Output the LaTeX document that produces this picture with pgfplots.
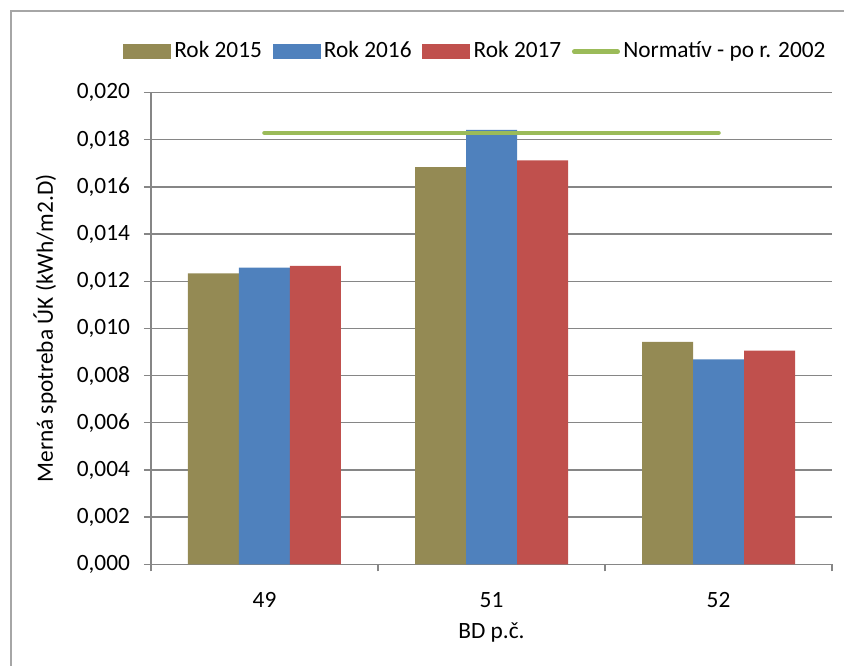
\documentclass[border=0pt]{standalone}
\usepackage{fontspec}
\setmainfont{Carlito}
\usepackage{pgfplots}
\pgfplotsset{compat=1.18}

\definecolor{c15}{HTML}{948A54}
\definecolor{c16}{HTML}{4F81BD}
\definecolor{c17}{HTML}{C0504D}
\definecolor{cnorm}{HTML}{9BBB59}
\definecolor{gridgray}{HTML}{868686}
\definecolor{framegray}{HTML}{A6A6A6}

\pgfplotsset{
  barleg/.style={legend image code/.code={\fill[##1] (0pt,-5.6pt) rectangle (36pt,5.6pt);}},
  lineleg/.style={legend image code/.code={\draw[##1] (1.7pt,0pt) -- (34.3pt,0pt);}},
}

\begin{document}
\fontsize{17.5}{20}\selectfont
\begin{tikzpicture}
\useasboundingbox (0,0) rectangle (633pt,499.5pt);
\draw[framegray, line width=1.5pt] (8.25pt,0) -- (8.25pt,491.25pt) -- (633pt,491.25pt);
\begin{axis}[
    at={(113.25pt,76.3pt)}, anchor=south west,
    scale only axis, width=510.75pt, height=353.7pt,
    ybar=0pt, bar width=38.25pt,
    xmin=-0.5, xmax=2.5, ymin=0, ymax=0.02,
    axis x line=bottom, axis y line=left,
    axis line style={gridgray, line width=1pt, -},
    tick style={gridgray, line width=1pt},
    tick align=outside, major tick length=5.25pt,
    ymajorgrids, grid style={gridgray, line width=1pt},
    ytick={0,0.002,0.004,0.006,0.008,0.010,0.012,0.014,0.016,0.018,0.020},
    scaled y ticks=false,
    yticklabel style={xshift=-4.5pt, /pgf/number format/.cd, fixed, fixed zerofill, precision=3, use comma, assume math mode=true, /tikz/.cd},
    xtick={-0.5,0.5,1.5,2.5}, xticklabels={},
    extra x ticks={0,1,2}, extra x tick labels={49,51,52},
    extra x tick style={major tick length=0pt, xticklabel style={anchor=center, yshift=-27pt}},
    xlabel={BD p.č.},
    xlabel style={at={(axis description cs:0.5,-0.1457)}, anchor=center},
    ylabel={Merná spotreba ÚK (kWh/m2.D)},
    ylabel style={at={(axis description cs:-0.1557,0.5)}, anchor=center},
    legend columns=4,
    legend style={at={(axis description cs:-0.0416,1.087)}, anchor=west,
        draw=none, fill=none, inner sep=0pt,
        nodes={inner xsep=2.5pt, inner ysep=0pt},
        /tikz/every even column/.append style={column sep=5.5pt}},
]
\addplot[fill=c15, draw=none, bar shift=-38.25pt, barleg]
    coordinates {(0,0.01234) (1,0.01684) (2,0.00943)};
\addlegendentry{Rok 2015}
\addplot[fill=c16, draw=none, bar shift=0pt, barleg]
    coordinates {(0,0.01258) (1,0.01842) (2,0.00869)};
\addlegendentry{Rok 2016}
\addplot[fill=c17, draw=none, bar shift=38.25pt, barleg]
    coordinates {(0,0.01265) (1,0.01713) (2,0.00906)};
\addlegendentry{Rok 2017}
\addplot[sharp plot, draw=cnorm, line width=3.4pt, line cap=round, mark=none, lineleg]
    coordinates {(0,0.01829) (2,0.01829)};
\addlegendentry{Normatív - po r. 2002}
\end{axis}
\end{tikzpicture}
\end{document}
